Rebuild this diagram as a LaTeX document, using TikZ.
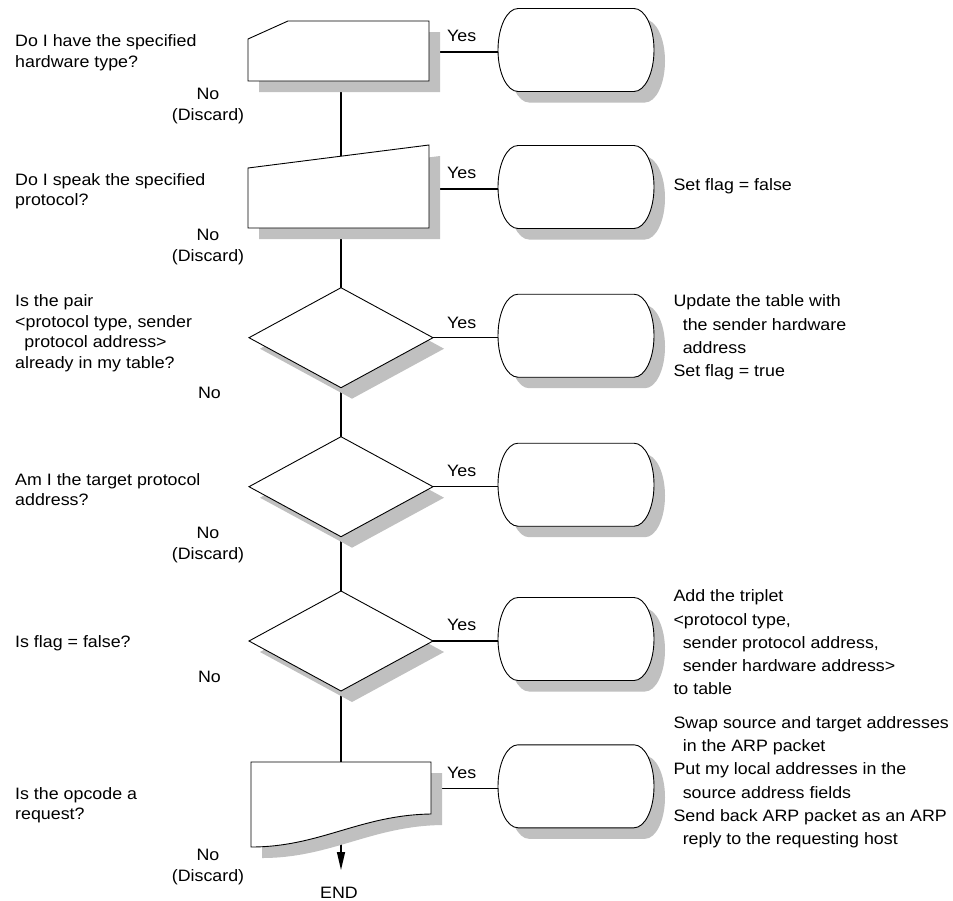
\documentclass[tikz,border=0pt]{standalone}
\usepackage{fontspec}
\setmainfont{Liberation Sans}[FakeStretch=1.08]
\usetikzlibrary{arrows.meta}
\pgfdeclarelayer{bg}
\pgfsetlayers{bg,main}
\definecolor{shadowc}{RGB}{192,192,192}
\newcommand\lines[1]{\begin{tabular}[t]{@{}l@{}}#1\end{tabular}}
\newcommand\clines[1]{\begin{tabular}[t]{@{}c@{}}#1\end{tabular}}
\newcommand\ind{\hspace*{9.3pt}}
\newcommand\shadowed[1]{\fill[shade,shift={(11,-11)}] #1; \draw[outline] #1;}
\newcommand\terminal[2]{%
  \begin{scope}[shift={(576,#2)}]
    \begin{scope}[shift={(0,2)}]
      \shadowed{(-58,41.5) -- (58,41.5) arc[start angle=90,end angle=-90,x radius=20,y radius=41.5] -- (-58,-41.5) arc[start angle=270,end angle=90,x radius=20,y radius=41.5] -- cycle}
    \end{scope}
    \node[anchorpt] (#1) at (0,0) {};
  \end{scope}}
\newcommand\decision[2]{%
  \begin{scope}[shift={(341,#2)}]
    \shadowed{(-92,0) -- (0,50) -- (92,0) -- (0,-50) -- cycle}
    \node[anchorpt] (#1) at (0,0) {};
  \end{scope}}
\begin{document}
\begin{tikzpicture}[x=1pt,y=1pt,
  conn/.style={line width=1.4pt},
  outline/.style={draw=black,line width=0.9pt,fill=white},
  shade/.style={fill=shadowc},
  anchorpt/.style={inner sep=0pt,minimum size=0pt,outer sep=0pt},
  lefttxt/.style={anchor=base west,inner sep=0pt,font=\fontsize{16.5}{20.5}\selectfont},
  notxt/.style={anchor=base,inner sep=0pt,font=\fontsize{16.5}{21.5}\selectfont},
  righttxt/.style={anchor=base west,inner sep=0pt,font=\fontsize{16.5}{23.3}\selectfont},
  yestxt/.style={anchor=base west,inner sep=0pt,font=\fontsize{16.5}{20}\selectfont}]
\useasboundingbox (0,0) rectangle (953,-900);

% ---- decision shapes
% 1: manual input (card)
\shadowed{(248,-39) -- (288,-21) -- (429,-21) -- (429,-81) -- (248,-81) -- cycle}
\node[anchorpt] (s1) at (341,-52) {};
% 2: manual input (slanted)
\shadowed{(248,-168) -- (429,-145) -- (429,-228) -- (248,-228) -- cycle}
\node[anchorpt] (s2) at (341,-189) {};
% diamonds
\decision{d1}{-337.7}
\decision{d2}{-486.7}
\decision{d3}{-641}
% 6: document
\shadowed{(251,-762) -- (431,-762) -- (431,-814) .. controls (360,-815) and (320,-847) .. (251,-847) -- cycle}
\node[anchorpt] (s6) at (341,-788.3) {};
\coordinate (endpt) at (341,-870);

% ---- terminals
\terminal{t1}{-52}
\terminal{t2}{-189}
\terminal{t3}{-337.7}
\terminal{t4}{-486.7}
\terminal{t5}{-641}
\terminal{t6}{-788.3}

% ---- connectors
\begin{pgfonlayer}{bg}
  \fill[white] (0,0) rectangle (953,-900);
  \draw[conn] (s1) -- (s2) -- (d1) -- (d2) -- (d3) -- (s6);
  \draw[conn,-{Triangle[length=18pt,width=8pt]}] (s6) -- (endpt);
  \foreach \a/\b in {s1/t1,s2/t2,d1/t3,d2/t4,d3/t5,s6/t6}
    \draw[conn] (\a) -- (\b);
\end{pgfonlayer}

% ---- Yes labels
\node[yestxt] (y1) at (447,-41.7) {Yes};
\node[yestxt] (y2) at (447,-178.3) {Yes};
\node[yestxt] (y3) at (447,-328) {Yes};
\node[yestxt] (y4) at (447,-476.7) {Yes};
\node[yestxt] (y5) at (447,-630) {Yes};
\node[yestxt] (y6) at (447,-778.3) {Yes};

% ---- questions
\node[lefttxt] (q1) at (15,-46.7) {\lines{Do I have the specified\\hardware type?}};
\node[lefttxt] (q2) at (15,-185) {\lines{Do I speak the specified\\protocol?}};
\node[lefttxt] (q3) at (15,-306.7) {\lines{Is the pair\\<protocol type, sender\\\ind protocol address>\\already in my table?}};
\node[lefttxt] (q4) at (15,-485) {\lines{Am I the target protocol\\address?}};
\node[lefttxt] (q5) at (15,-647) {Is flag = false?};
\node[lefttxt] (q6) at (15,-799) {\lines{Is the opcode a\\request?}};

% ---- No labels
\node[notxt] (n1) at (208,-99) {\clines{No\\(Discard)}};
\node[notxt] (n2) at (208,-240) {\clines{No\\(Discard)}};
\node[notxt] (n3) at (209.5,-398.3) {No};
\node[notxt] (n4) at (208,-538.3) {\clines{No\\(Discard)}};
\node[notxt] (n5) at (209.5,-682) {No};
\node[notxt] (n6) at (208,-860) {\clines{No\\(Discard)}};
\node[notxt] (endlbl) at (339,-898.4) {END};

% ---- actions
\node[righttxt] (r2) at (673.3,-190) {Set flag = false};
\node[righttxt] (r3) at (673.3,-306.7) {\lines{Update the table with\\\ind the sender hardware\\\ind address\\Set flag = true}};
\node[righttxt] (r5) at (673.3,-601.7) {\lines{Add the triplet\\<protocol type,\\\ind sender protocol address,\\\ind sender hardware address>\\to table}};
\node[righttxt] (r6) at (673.3,-728.3) {\lines{Swap source and target addresses\\\ind in the ARP packet\\Put my local addresses in the\\\ind source address fields\\Send back ARP packet as an ARP\\\ind reply to the requesting host}};
\end{tikzpicture}
\end{document}
